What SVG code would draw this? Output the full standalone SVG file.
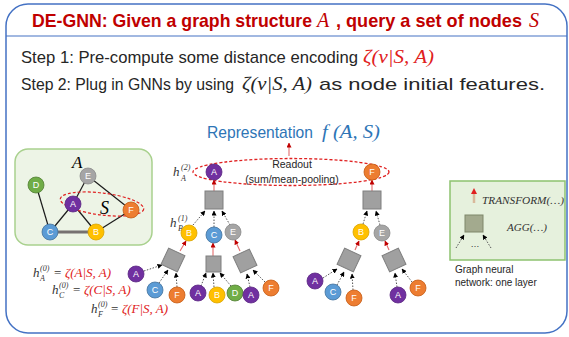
<svg xmlns="http://www.w3.org/2000/svg" width="569" height="337" viewBox="0 0 569 337">
<style>
.sans{font-family:"Liberation Sans",Arial,sans-serif}
.math{font-family:"Liberation Serif","Times New Roman",serif;font-style:italic}
.nl{font-family:"Liberation Sans",Arial,sans-serif;font-size:9px;fill:#fff;text-anchor:middle;dominant-baseline:central}
.pA{fill:#7030A0;stroke:#5a2682;stroke-width:.8}
.pB{fill:#FFC000;stroke:#d9a300;stroke-width:.8}
.pC{fill:#5B9BD5;stroke:#41719c;stroke-width:.8}
.pD{fill:#70AD47;stroke:#507e32;stroke-width:.8}
.pE{fill:#A5A5A5;stroke:#8a8a8a;stroke-width:.8}
.pF{fill:#ED7D31;stroke:#c55a11;stroke-width:.8}
.sq{fill:#A0A0A0;stroke:#7F7F7F;stroke-width:1}
.red{stroke:#E36C6C;stroke-width:1.1;fill:none;marker-end:url(#rh)}
.dot{stroke:#555;stroke-width:1;stroke-dasharray:1.5 1.5;fill:none;marker-end:url(#bh)}
.edge{stroke:#1a1a1a;stroke-width:1.2}
</style>
<defs>
<marker id="rh" viewBox="0 0 10 10" refX="9" refY="5" markerWidth="5" markerHeight="5" orient="auto" markerUnits="userSpaceOnUse"><path d="M0,0 L10,5 L0,10 z" fill="#C00000"/></marker>
<marker id="bh" viewBox="0 0 10 10" refX="9" refY="5" markerWidth="5" markerHeight="5" orient="auto" markerUnits="userSpaceOnUse"><path d="M0,0 L10,5 L0,10 z" fill="#000"/></marker>
</defs>

<!-- frame -->
<g id="frame">
<rect x="6" y="4" width="561" height="329" rx="22" fill="#fff" stroke="#4472C4" stroke-width="1.5"/>
<line x1="6" y1="36" x2="567" y2="36" stroke="#4472C4" stroke-width="1.2"/>
</g>

<!-- title and steps -->
<g id="title" fill="#C00000" font-weight="bold">
<text class="sans" x="32" y="27" font-size="19" textLength="280" lengthAdjust="spacingAndGlyphs">DE-GNN: Given a graph structure</text>
<text class="math" x="317" y="27" font-size="20" font-weight="normal">A</text>
<text class="sans" x="336" y="27" font-size="19" textLength="186" lengthAdjust="spacingAndGlyphs">, query a set of nodes</text>
<text class="math" x="529" y="27" font-size="20" font-weight="normal">S</text>
</g>
<g id="steps" fill="#262626">
<text class="sans" x="21" y="63" font-size="17" textLength="337" lengthAdjust="spacingAndGlyphs">Step 1: Pre-compute some distance encoding</text>
<text class="math" x="363" y="63" font-size="18" fill="#E02020" textLength="71" lengthAdjust="spacingAndGlyphs">ζ(v|S, A)</text>
<text class="sans" x="21" y="90" font-size="17" textLength="213" lengthAdjust="spacingAndGlyphs">Step 2: Plug in GNNs by using</text>
<text class="math" x="242" y="90" font-size="18" textLength="70" lengthAdjust="spacingAndGlyphs">ζ(v|S, A)</text>
<text class="sans" x="319" y="90" font-size="17" textLength="226" lengthAdjust="spacingAndGlyphs">as node initial features.</text>
</g>

<!-- left input graph -->
<g id="input-graph">
<rect x="15" y="149" width="137" height="96" rx="13" fill="#EDF4E6" stroke="#A9D18E" stroke-width="1.5"/>
<line x1="50" y1="232" x2="96" y2="232" stroke="#767171" stroke-width="2.8"/>
<line class="edge" x1="36" y1="185" x2="50" y2="232"/>
<line class="edge" x1="88" y1="176" x2="73" y2="204"/>
<line class="edge" x1="73" y1="204" x2="50" y2="232"/>
<line class="edge" x1="73" y1="204" x2="96" y2="232"/>
<line class="edge" x1="88" y1="176" x2="131" y2="210"/>
<line class="edge" x1="131" y1="210" x2="96" y2="232"/>
<ellipse cx="102" cy="204" rx="42" ry="11" transform="rotate(7 102 204)" fill="none" stroke="#E02020" stroke-width="1.2" stroke-dasharray="3 2"/>
<text class="math" x="72" y="168" font-size="17" fill="#000">A</text>
<text class="math" x="100" y="214" font-size="18" fill="#000">S</text>
<circle class="pD" cx="36" cy="185" r="8"/><text class="nl" x="36" y="185">D</text>
<circle class="pE" cx="88" cy="176" r="8"/><text class="nl" x="88" y="176">E</text>
<circle class="pA" cx="73" cy="204" r="8"/><text class="nl" x="73" y="204">A</text>
<circle class="pF" cx="131" cy="210" r="8"/><text class="nl" x="131" y="210">F</text>
<circle class="pC" cx="50" cy="232" r="8"/><text class="nl" x="50" y="232">C</text>
<circle class="pB" cx="96" cy="232" r="8"/><text class="nl" x="96" y="232">B</text>
</g>

<!-- formulas -->
<g id="formulas" class="math">
<text x="33" y="277" font-size="13" fill="#333">h</text><text x="40" y="271" font-size="8" fill="#333">(0)</text><text x="40" y="281" font-size="8" fill="#333">A</text>
<text x="54" y="277" font-size="13" fill="#333" font-style="normal">=</text>
<text x="65" y="277" font-size="13" fill="#E02020">ζ(A|S, A)</text>
<text x="52" y="294" font-size="13" fill="#333">h</text><text x="59" y="288" font-size="8" fill="#333">(0)</text><text x="59" y="298" font-size="8" fill="#333">C</text>
<text x="73" y="294" font-size="13" fill="#333" font-style="normal">=</text>
<text x="84" y="294" font-size="13" fill="#E02020">ζ(C|S, A)</text>
<text x="91" y="313" font-size="13" fill="#333">h</text><text x="98" y="307" font-size="8" fill="#333">(0)</text><text x="98" y="317" font-size="8" fill="#333">F</text>
<text x="111" y="313" font-size="13" fill="#333" font-style="normal">=</text>
<text x="122" y="313" font-size="13" fill="#E02020">ζ(F|S, A)</text>
</g>

<!-- representation / readout -->
<g id="readout">
<text class="sans" x="207" y="138" font-size="17" fill="#2E75B6" textLength="106" lengthAdjust="spacingAndGlyphs">Representation</text>
<text class="math" x="322" y="138" font-size="18" fill="#2E75B6" textLength="58" lengthAdjust="spacingAndGlyphs">f (A, S)</text>
<ellipse cx="291" cy="172" rx="98" ry="13.5" fill="none" stroke="#E02020" stroke-width="1.3" stroke-dasharray="3 2"/>
<text class="sans" x="292" y="168" font-size="10.5" fill="#262626" text-anchor="middle">Readout</text>
<text class="sans" x="292" y="183" font-size="10.5" fill="#262626" text-anchor="middle">(sum/mean-pooling)</text>
<text class="math" x="173" y="176" font-size="13" fill="#333">h</text><text x="181" y="170" font-size="8" class="math" fill="#333">(2)</text><text x="181" y="181" font-size="8" class="math" fill="#333">A</text>
<text class="math" x="170" y="227" font-size="13" fill="#333">h</text><text x="178" y="221" font-size="8" class="math" fill="#333">(1)</text><text x="178" y="231" font-size="8" class="math" fill="#333">B</text>
</g>

<!-- connectors -->
<g id="connectors">
<line class="red" x1="289" y1="156" x2="289" y2="143"/>
<line class="red" x1="214" y1="191" x2="214" y2="180"/>
<line class="red" x1="372" y1="191" x2="372" y2="180"/>
<line class="dot" x1="193" y1="225" x2="205" y2="211"/>
<line class="dot" x1="214" y1="227" x2="214" y2="211"/>
<line class="dot" x1="230" y1="225" x2="222" y2="211"/>
<line class="dot" x1="363" y1="224" x2="367" y2="211"/>
<line class="dot" x1="380" y1="225" x2="376" y2="211"/>
<line class="red" x1="180" y1="251" x2="186" y2="241"/>
<line class="red" x1="213" y1="256" x2="213" y2="243"/>
<line class="red" x1="240" y1="251" x2="235" y2="240"/>
<line class="red" x1="355" y1="250" x2="359" y2="241"/>
<line class="red" x1="389" y1="250" x2="385" y2="241"/>
<line class="dot" x1="144" y1="271" x2="162" y2="265"/>
<line class="dot" x1="159" y1="283" x2="168" y2="270"/>
<line class="dot" x1="177" y1="287" x2="176" y2="273"/>
<line class="dot" x1="201" y1="286" x2="206" y2="273"/>
<line class="dot" x1="214" y1="287" x2="213" y2="273"/>
<line class="dot" x1="231" y1="286" x2="220" y2="273"/>
<line class="dot" x1="250" y1="287" x2="247" y2="274"/>
<line class="dot" x1="265" y1="282" x2="253" y2="270"/>
<line class="dot" x1="323" y1="278" x2="337" y2="269"/>
<line class="dot" x1="337" y1="285" x2="344" y2="272"/>
<line class="dot" x1="353" y1="290" x2="352" y2="274"/>
<line class="dot" x1="397" y1="287" x2="395" y2="273"/>
<line class="dot" x1="412" y1="282" x2="402" y2="269"/>
</g>

<!-- aggregation squares -->
<g id="agg-squares">
<rect class="sq" x="205" y="191" width="18" height="18"/>
<rect class="sq" x="363" y="191" width="18" height="18"/>
<rect class="sq" x="164" y="251" width="18" height="18" transform="rotate(25 173 260)"/>
<rect class="sq" x="206" y="256" width="15" height="16"/>
<rect class="sq" x="236" y="252" width="18" height="18" transform="rotate(-25 245 261)"/>
<rect class="sq" x="340" y="251" width="18" height="18" transform="rotate(25 349 260)"/>
<rect class="sq" x="385" y="251" width="18" height="18" transform="rotate(-25 394 260)"/>
</g>

<!-- tree nodes -->
<g id="node-A-top"><circle class="pA" cx="214" cy="172" r="8"/><text class="nl" x="214" y="172">A</text></g>
<g id="node-F-top"><circle class="pF" cx="372" cy="172" r="8"/><text class="nl" x="372" y="172">F</text></g>
<g id="node-B1"><circle class="pB" cx="189" cy="233" r="8"/><text class="nl" x="189" y="233">B</text></g>
<g id="node-C1"><circle class="pC" cx="214" cy="235" r="8"/><text class="nl" x="214" y="235">C</text></g>
<g id="node-E1"><circle class="pE" cx="233" cy="232" r="8"/><text class="nl" x="233" y="232">E</text></g>
<g id="node-B2"><circle class="pB" cx="361" cy="232" r="8"/><text class="nl" x="361" y="232">B</text></g>
<g id="node-E2"><circle class="pE" cx="382" cy="233" r="8"/><text class="nl" x="382" y="233">E</text></g>
<g id="leaves">
<circle class="pA" cx="136" cy="274" r="8"/><text class="nl" x="136" y="274">A</text>
<circle class="pC" cx="155" cy="290" r="8"/><text class="nl" x="155" y="290">C</text>
<circle class="pF" cx="177" cy="295" r="8"/><text class="nl" x="177" y="295">F</text>
<circle class="pA" cx="198" cy="293" r="8"/><text class="nl" x="198" y="293">A</text>
<circle class="pB" cx="217" cy="295" r="8"/><text class="nl" x="217" y="295">B</text>
<circle class="pD" cx="235" cy="293" r="8"/><text class="nl" x="235" y="293">D</text>
<circle class="pA" cx="251" cy="295" r="8"/><text class="nl" x="251" y="295">A</text>
<circle class="pF" cx="271" cy="288" r="8"/><text class="nl" x="271" y="288">F</text>
<circle class="pA" cx="315" cy="281" r="8"/><text class="nl" x="315" y="281">A</text>
<circle class="pC" cx="333" cy="292" r="8"/><text class="nl" x="333" y="292">C</text>
<circle class="pF" cx="354" cy="298" r="8"/><text class="nl" x="354" y="298">F</text>
<circle class="pA" cx="398" cy="295" r="8"/><text class="nl" x="398" y="295">A</text>
<circle class="pF" cx="418" cy="288" r="8"/><text class="nl" x="418" y="288">F</text>
</g>

<!-- legend -->
<g id="legend">
<rect x="450" y="181" width="115" height="79" fill="#E6F1DD" stroke="#8DC26F" stroke-width="1.5"/>
<line x1="474" y1="203" x2="474" y2="193" stroke="#D9B99B" stroke-width="2.5"/>
<path d="M471,194 L474,188 L477,194 z" fill="#E02020"/>
<text class="math" x="482" y="204" font-size="10.5" fill="#333" textLength="82" lengthAdjust="spacingAndGlyphs">TRANSFORM(…)</text>
<rect x="465" y="215" width="18" height="17" fill="#A3AA8E" stroke="#7E876A" stroke-width="1"/>
<text class="math" x="507" y="231" font-size="10.5" fill="#333" textLength="40" lengthAdjust="spacingAndGlyphs">AGG(…)</text>
<line class="dot" x1="456" y1="248" x2="464" y2="235"/>
<line class="dot" x1="491" y1="248" x2="483" y2="235"/>
<text class="sans" x="475" y="247" font-size="9" fill="#333" text-anchor="middle">…</text>
<text class="sans" x="455" y="273" font-size="10" fill="#262626">Graph neural</text>
<text class="sans" x="455" y="286" font-size="10" fill="#262626">network: one layer</text>
</g>
</svg>
